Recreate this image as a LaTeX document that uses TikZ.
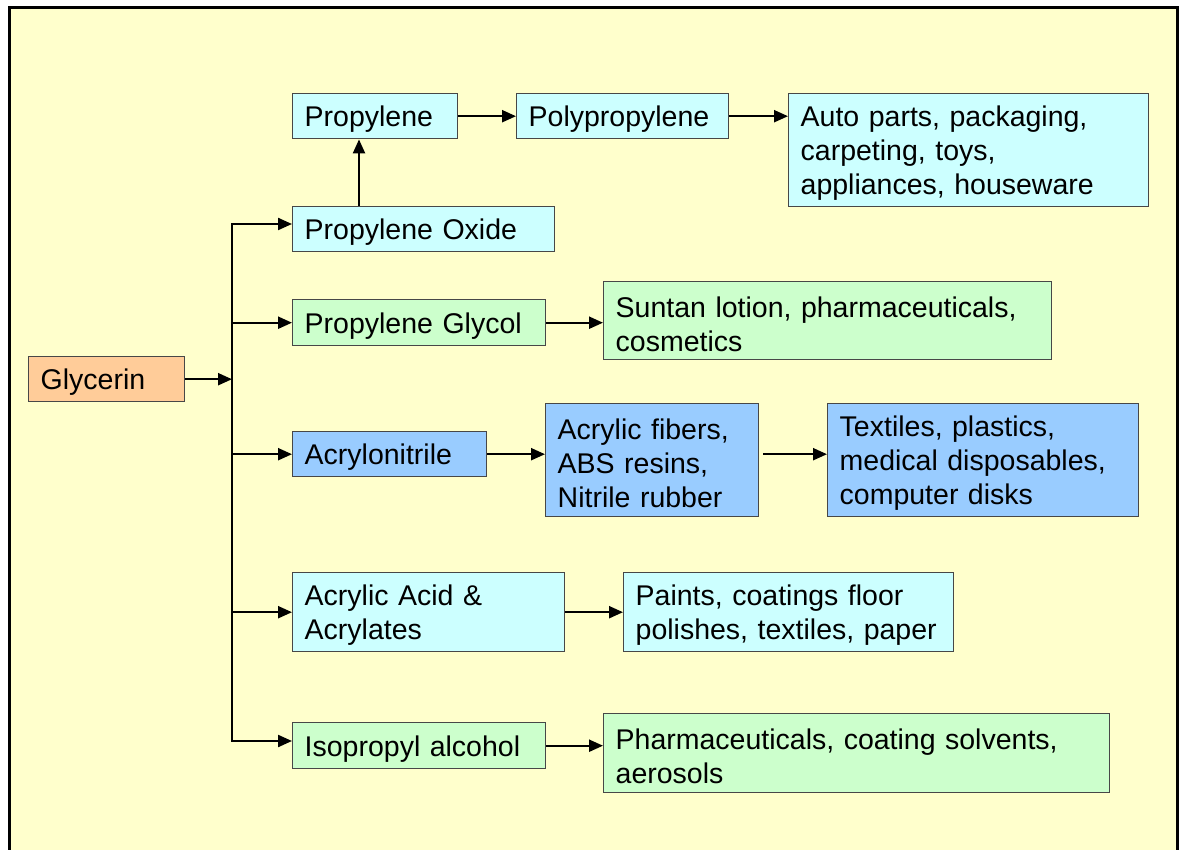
\documentclass[tikz,border=0pt]{standalone}
\usepackage{fontspec}
\setmainfont{Liberation Sans}
\usetikzlibrary{arrows.meta}
\definecolor{panel}{HTML}{FFFFCC}
\definecolor{cyanbox}{HTML}{CCFFFF}
\definecolor{greenbox}{HTML}{CCFFCC}
\definecolor{bluebox}{HTML}{99CCFF}
\definecolor{orangebox}{HTML}{FFCC99}
\definecolor{edge}{HTML}{474747}
\tikzset{
  box/.style={draw=edge, line width=1.4pt, anchor=north west, inner xsep=12pt, inner ysep=0pt,
    align=left, font=\fontsize{28.5}{34}\selectfont, text=black},
  flow/.style={line width=2.2pt, -{Triangle[length=14pt,width=12pt]}},
  trunk/.style={line width=2pt}
}
% place a box by its top-left corner (x,y), width w, height h;
% the strut on the first line sets the text a little below centre
\newcommand{\chembox}[7]{%
  \node[box, fill=#2, minimum width=#5pt, minimum height=#6pt, text width=#5pt-24pt] (#1) at (#3,-#4)
    {\rule{0pt}{27pt}#7};}
\begin{document}
\begin{tikzpicture}[x=1pt,y=1pt]
\useasboundingbox (0,0) rectangle (1180,-850);
\fill[white] (0,0) rectangle (1180,-850);
\filldraw[fill=panel, draw=black, line width=3pt] (9,-8) rectangle (1177,-870);

\chembox{gly}{orangebox}{28}{356}{156}{45}{Glycerin}
\chembox{pro}{cyanbox}{292}{93}{165}{45}{Propylene}
\chembox{poly}{cyanbox}{516}{93}{212}{45}{Polypropylene}
\chembox{auto}{cyanbox}{788}{93}{360}{113}{Auto parts, packaging,\\carpeting, toys,\\appliances, houseware}
\chembox{oxide}{cyanbox}{292}{206}{262}{45}{Propylene Oxide}
\chembox{glycol}{greenbox}{292}{299}{253}{46}{Propylene Glycol}
\chembox{suntan}{greenbox}{603}{281}{448}{78}{Suntan lotion, pharmaceuticals,\\cosmetics}
\chembox{acn}{bluebox}{292}{431}{194}{45}{Acrylonitrile}
\chembox{fib}{bluebox}{545}{403}{213}{113}{Acrylic fibers,\\ABS resins,\\Nitrile rubber}
\chembox{tex}{bluebox}{827}{403}{311}{113}{Textiles, plastics,\\medical disposables,\\computer disks}
\chembox{acid}{cyanbox}{292}{572}{272}{79}{Acrylic Acid \&\\Acrylates}
\chembox{paint}{cyanbox}{623}{572}{330}{79}{Paints, coatings floor\\polishes, textiles, paper}
\chembox{ipa}{greenbox}{292}{722}{253}{46}{Isopropyl alcohol}
\chembox{pharm}{greenbox}{603}{713}{506}{79}{Pharmaceuticals, coating solvents,\\aerosols}

% trunk line feeding the five branches; its ends turn into the outer branches
\coordinate (ttop) at (232,-224);
\coordinate (tbot) at (232,-741);
\draw[trunk, line join=miter] ([yshift=-20pt]ttop) -- (ttop) -- ([xshift=-14pt]ttop -| oxide.west);
\draw[trunk, line join=miter] ([yshift=20pt]tbot) -- (tbot) -- ([xshift=-14pt]tbot -| ipa.west);
\draw[trunk] (ttop) -- (tbot);
\draw[flow] (ttop) -- (ttop -| oxide.west);
\draw[flow] (tbot) -- (tbot -| ipa.west);
\draw[flow] (gly.east) -- (gly.east -| ttop);
\draw[flow] (glycol.west -| ttop) -- (glycol.west);
\draw[flow] (acn.west -| ttop) -- (acn.west);
\draw[flow] (acid.west -| ttop) -- (acid.west);

% downstream products
\draw[flow] (oxide.north -| 359,0) -- (pro.south -| 359,0);
\draw[flow] (pro.east) -- (poly.west);
\draw[flow] (poly.east) -- (poly.east -| auto.west);
\draw[flow] (glycol.east) -- (glycol.east -| suntan.west);
\draw[flow] (acn.east) -- (acn.east -| fib.west);
\draw[flow] ([xshift=4pt]fib.east |- acn.east) -- (acn.east -| tex.west);
\draw[flow] (acid.east) -- (paint.west);
\draw[flow] (ipa.east) -- (ipa.east -| pharm.west);
\end{tikzpicture}
\end{document}
